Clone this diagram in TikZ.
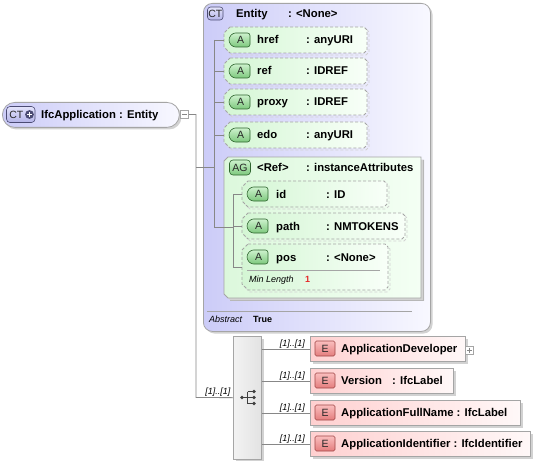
\documentclass[tikz,border=0pt]{standalone}
\usepackage{fontspec}
\setmainfont{Liberation Sans}
\usetikzlibrary{calc}
\definecolor{treeline}{RGB}{135,135,135}
\definecolor{boxborder}{RGB}{165,165,165}
\definecolor{lavL}{RGB}{204,204,248}
\definecolor{lavR}{RGB}{248,248,255}
\definecolor{grnL}{RGB}{212,246,212}
\definecolor{grnR}{RGB}{248,255,248}
\definecolor{agL}{RGB}{220,248,220}
\definecolor{agR}{RGB}{244,255,244}
\definecolor{pnkL}{RGB}{255,208,208}
\definecolor{pnkR}{RGB}{255,248,248}
\definecolor{bGrnT}{RGB}{205,242,205}
\definecolor{bGrnB}{RGB}{125,200,125}
\definecolor{bGrnD}{RGB}{45,100,45}
\definecolor{bRedT}{RGB}{250,190,190}
\definecolor{bRedB}{RGB}{228,125,125}
\definecolor{bRedD}{RGB}{160,70,70}
\definecolor{bLavT}{RGB}{228,228,252}
\definecolor{bLavB}{RGB}{180,180,232}
\definecolor{bLavD}{RGB}{75,75,115}
\definecolor{redtxt}{RGB}{230,40,40}
\definecolor{shd}{RGB}{210,210,210}
\newcommand\bt{\fontsize{11.3}{13}\selectfont\bfseries}
\newcommand\st{\fontsize{9}{10}\selectfont\itshape}
\newcommand\sbt{\fontsize{9}{10}\selectfont\bfseries}
\newcommand\bdg{\fontsize{10.5}{11}\selectfont\color{black!85}}
% attribute box: name, x1, y1, x2, y2
\newcommand\attrbox[5]{%
  \draw[shd, dash pattern=on 3pt off 2pt, line width=0.8pt, shift={(2,2)}]
    (#2+6,#3) -- (#4-3,#3) -- (#4,#3+3) -- (#4,#5-3) -- (#4-3,#5) -- (#2+6,#5) -- (#2,#5-6) -- (#2,#3+6) -- cycle;
  \shade[left color=grnL, right color=grnR]
    (#2+6,#3) -- (#4-3,#3) -- (#4,#3+3) -- (#4,#5-3) -- (#4-3,#5) -- (#2+6,#5) -- (#2,#5-6) -- (#2,#3+6) -- cycle;
  \draw[boxborder, dash pattern=on 3pt off 2pt, line width=0.8pt]
    (#2+6,#3) -- (#4-3,#3) -- (#4,#3+3) -- (#4,#5-3) -- (#4-3,#5) -- (#2+6,#5) -- (#2,#5-6) -- (#2,#3+6) -- cycle;
  \coordinate (#1) at (#2,{#3+13});
}
% A badge: name, x1, cy
\newcommand\abadge[3]{%
  \shade[top color=bGrnT, bottom color=bGrnB, draw=bGrnD, line width=0.6pt, rounded corners=2.5]
    (#2+4,#3-7) -- (#2+21,#3-7) -- (#2+21,#3+7) -- (#2+4,#3+7) -- (#2,#3+2.5) -- (#2,#3-2.5) -- cycle;
  \node[inner sep=0] (#1) at (#2+11.5,#3+0.3) {\bdg A};
}
% E badge: name, cy
\newcommand\ebadge[2]{%
  \shade[top color=bRedT, bottom color=bRedB, draw=bRedD, line width=0.6pt, rounded corners=1.5]
    (315,#2-7.5) rectangle (335,#2+7.5);
  \node[inner sep=0] (#1) at (325,#2+0.5) {\bdg E};
}
\begin{document}
\begin{tikzpicture}[x=1pt,y=-1pt,
  tree/.style={draw=treeline, line width=0.8pt},
  txt/.style={anchor=base west, inner sep=0},
  lbl/.style={anchor=base east, inner sep=0, font=\st},
  elem/.style={draw=boxborder, line width=0.8pt, left color=pnkL, right color=pnkR, anchor=north west, inner sep=0, minimum height=25},
  expander/.style={draw=boxborder, fill=white, line width=0.6pt, minimum size=8, inner sep=0}]
\useasboundingbox (0,0) rectangle (534,465);
\fill[white] (0,0) rectangle (534,465);

% ---------- root ----------
\fill[shd, rounded corners=12.5] (4,104.5) rectangle (181.5,129.5);
\node[draw=boxborder, line width=0.8pt, rounded corners=12.5, left color=lavL, right color=lavR,
      minimum width=177, minimum height=25, anchor=north west, inner sep=0] (root) at (2,102) {};
\shade[top color=bLavT, bottom color=bLavB, draw=bLavD, line width=0.6pt, rounded corners=3.5]
  (6.5,106.5) rectangle (35,122.5);
\node[inner sep=0] (rootCT) at (16.3,114.8) {\bdg CT};
\fill[bLavD] (29.5,114.5) circle (4.4);
\draw[white, line width=1.2pt] (26.9,114.5) -- (32.1,114.5) (29.5,111.9) -- (29.5,117.1);
\node[txt] (rootT) at (41,118.6) {\bt IfcApplication : Entity};
\node[expander] (rootMinus) at (184.5,114.5) {};
\draw[treeline, line width=0.7pt] (182,114.5) -- (187,114.5);

% ---------- Entity complex type ----------
\fill[shd, rounded corners=9] (205.5,5.5) rectangle (432.5,333.5);
\node[draw=boxborder, line width=0.8pt, rounded corners=9, left color=lavL, right color=lavR,
      minimum width=227, minimum height=328, anchor=north west, inner sep=0] (entity) at (203,3) {};
\shade[top color=bLavT, bottom color=bLavB, draw=bLavD, line width=0.6pt, rounded corners=3]
  (207.5,7) rectangle (223,20);
\node[inner sep=0] (entCT) at (215.3,13.8) {\bdg CT};
\node[txt] (entName) at (236,17.5) {\bt Entity};
\node[txt] (entType) at (288,17.5) {\bt : <None>};

% attributes
\attrbox{href}{224}{27}{367}{53}
\abadge{hrefA}{229}{40}
\node[txt] (hrefN) at (257,44) {\bt href};
\node[txt] (hrefT) at (306,44) {\bt : anyURI};

\attrbox{ref}{224}{58}{367}{84}
\abadge{refA}{229}{71}
\node[txt] (refN) at (257,75) {\bt ref};
\node[txt] (refT) at (306,75) {\bt : IDREF};

\attrbox{proxy}{224}{89}{367}{115}
\abadge{proxyA}{229}{102}
\node[txt] (proxyN) at (257,106) {\bt proxy};
\node[txt] (proxyT) at (306,106) {\bt : IDREF};

\attrbox{edo}{224}{122}{367}{148}
\abadge{edoA}{229}{135}
\node[txt] (edoN) at (257,139) {\bt edo};
\node[txt] (edoT) at (306,139) {\bt : anyURI};

% attribute group
\fill[shd] (230.5,159.5) -- (424,159.5) -- (424,300.5) -- (230.5,300.5) -- (226.5,296.5) -- (226.5,163.5) -- cycle;
\draw[boxborder!80, line width=0.6pt] (423.5,160) -- (423.5,300.5) -- (230,300.5);
\path[draw=boxborder, line width=0.8pt, left color=agL, right color=agR]
  (228,157) -- (421,157) -- (421,298) -- (228,298) -- (224,294) -- (224,161) -- cycle;
\coordinate (ag) at (224,227.5);
\shade[top color=bGrnT, bottom color=bGrnB, draw=bGrnD, line width=0.6pt, rounded corners=3.5]
  (229.5,160) rectangle (250.5,175);
\node[inner sep=0] (agB) at (240,167.8) {\bdg AG};
\node[txt] (agN) at (257,171.5) {\bt <Ref>};
\node[txt] (agT) at (306,171.5) {\bt : instanceAttributes};

\attrbox{id}{242}{181}{387}{207}
\abadge{idA}{247}{194}
\node[txt] (idN) at (276,198) {\bt id};
\node[txt] (idT) at (326,198) {\bt : ID};

\attrbox{path}{242}{213}{405}{239}
\abadge{pathA}{247}{226}
\node[txt] (pathN) at (276,230) {\bt path};
\node[txt] (pathT) at (326,230) {\bt : NMTOKENS};

% pos (taller box with facet)
\draw[shd, dash pattern=on 3pt off 2pt, line width=0.8pt, shift={(2,2)}]
  (248,244) -- (385,244) -- (388,247) -- (388,287) -- (385,290) -- (248,290) -- (242,284) -- (242,250) -- cycle;
\shade[left color=grnL, right color=grnR]
  (248,244) -- (385,244) -- (388,247) -- (388,287) -- (385,290) -- (248,290) -- (242,284) -- (242,250) -- cycle;
\draw[boxborder, dash pattern=on 3pt off 2pt, line width=0.8pt]
  (248,244) -- (385,244) -- (388,247) -- (388,287) -- (385,290) -- (248,290) -- (242,284) -- (242,250) -- cycle;
\coordinate (pos) at (242,267);
\abadge{posA}{247}{257}
\node[txt] (posN) at (276,261) {\bt pos};
\node[txt] (posT) at (326,261) {\bt : <None>};
\draw[boxborder, line width=0.8pt] (247,270) -- (380,270);
\node[txt, font=\st] (posML) at (249,282.3) {Min Length};
\node[txt, font=\sbt, text=redtxt] (posMLv) at (305,282.3) {1};

% abstract facet
\draw[boxborder, line width=0.8pt] (207,311) -- (412,311);
\node[txt, font=\st] (absL) at (209,322) {Abstract};
\node[txt, font=\sbt] (absV) at (253,322) {True};

% tree inside Entity
\coordinate (eTop) at (214,40);
\coordinate (eJoin) at (214,167);
\coordinate (eBot) at (214,227.5);
\coordinate (agJoin) at (233,227.5);
\coordinate (iTop) at (233,194);
\coordinate (iBot) at (233,267);
\draw[tree] (eTop) -- (eBot);
\draw[tree] (eTop) -- (href);
\draw[tree] (214,71) -- (ref);
\draw[tree] (214,102) -- (proxy);
\draw[tree] (214,135) -- (edo);
\draw[tree] (eBot) -- (ag) -- (agJoin);
\draw[tree] (iTop) -- (iBot);
\draw[tree] (iTop) -- (id);
\draw[tree] (233,226) -- (path);
\draw[tree] (iBot) -- (pos);

% ---------- sequence ----------
\fill[shd] (235.5,338.5) rectangle (263.5,461);
\node[draw=boxborder, line width=0.8pt, left color=gray!10, right color=gray!22,
      minimum width=28, minimum height=122.5, anchor=north west, inner sep=0] (seq) at (233,336) {};
\begin{scope}[draw=black!75, fill=black!75, line width=0.8pt]
  \fill (242,397.5) circle (1.9);
  \draw (242,397.5) -- (247.5,397.5);
  \draw (247.5,391.5) -- (247.5,403.5);
  \draw (247.5,391.5) -- (254,391.5) (247.5,397.5) -- (254,397.5) (247.5,403.5) -- (254,403.5);
  \fill (254,391.5) circle (1.9) (254,397.5) circle (1.9) (254,403.5) circle (1.9);
\end{scope}

% root tree
\coordinate (jRoot) at (196,114.5);
\coordinate (jSeq) at (196,397.5);
\draw[tree] (rootMinus.east) -- (jRoot) -- (jSeq) -- (seq.west);
\draw[tree] (196,167) -- (eJoin);
\node[lbl] (seqCard) at (230.5,394.5) {[1]..[1]};

% ---------- elements ----------
\foreach \yy/\ww/\nm in {336/155/e1, 368/143/e2, 400/210/e3, 431/220/e4}{
  \fill[shd] (312.5,\yy+2.5) rectangle (310+\ww+2.5,\yy+27.5);
  \node[elem, minimum width=\ww] (\nm) at (310,\yy) {};
}
\ebadge{e1E}{348.5}
\ebadge{e2E}{380.5}
\ebadge{e3E}{412.5}
\ebadge{e4E}{443.5}
\node[txt] (e1T) at (341,352.5) {\bt ApplicationDeveloper};
\node[txt] (e2T) at (341,384.5) {\bt Version};
\node[txt] (e2Ty) at (392,384.5) {\bt : IfcLabel};
\node[txt] (e3T) at (341,416.5) {\bt ApplicationFullName : IfcLabel};
\node[txt] (e4T) at (341,447.5) {\bt ApplicationIdentifier : IfcIdentifier};
\node[expander] (e1Plus) at (469.5,350) {};
\draw[treeline, line width=0.6pt] (467,350) -- (472,350) (469.5,347.5) -- (469.5,352.5);

\foreach \nm in {e1,e2,e3,e4}{
  \draw[tree] (seq.east |- \nm.west) -- (\nm.west);
  \node[lbl] at ($(\nm.west)+(-5,-2.5)$) {[1]..[1]};
}
\end{tikzpicture}
\end{document}
